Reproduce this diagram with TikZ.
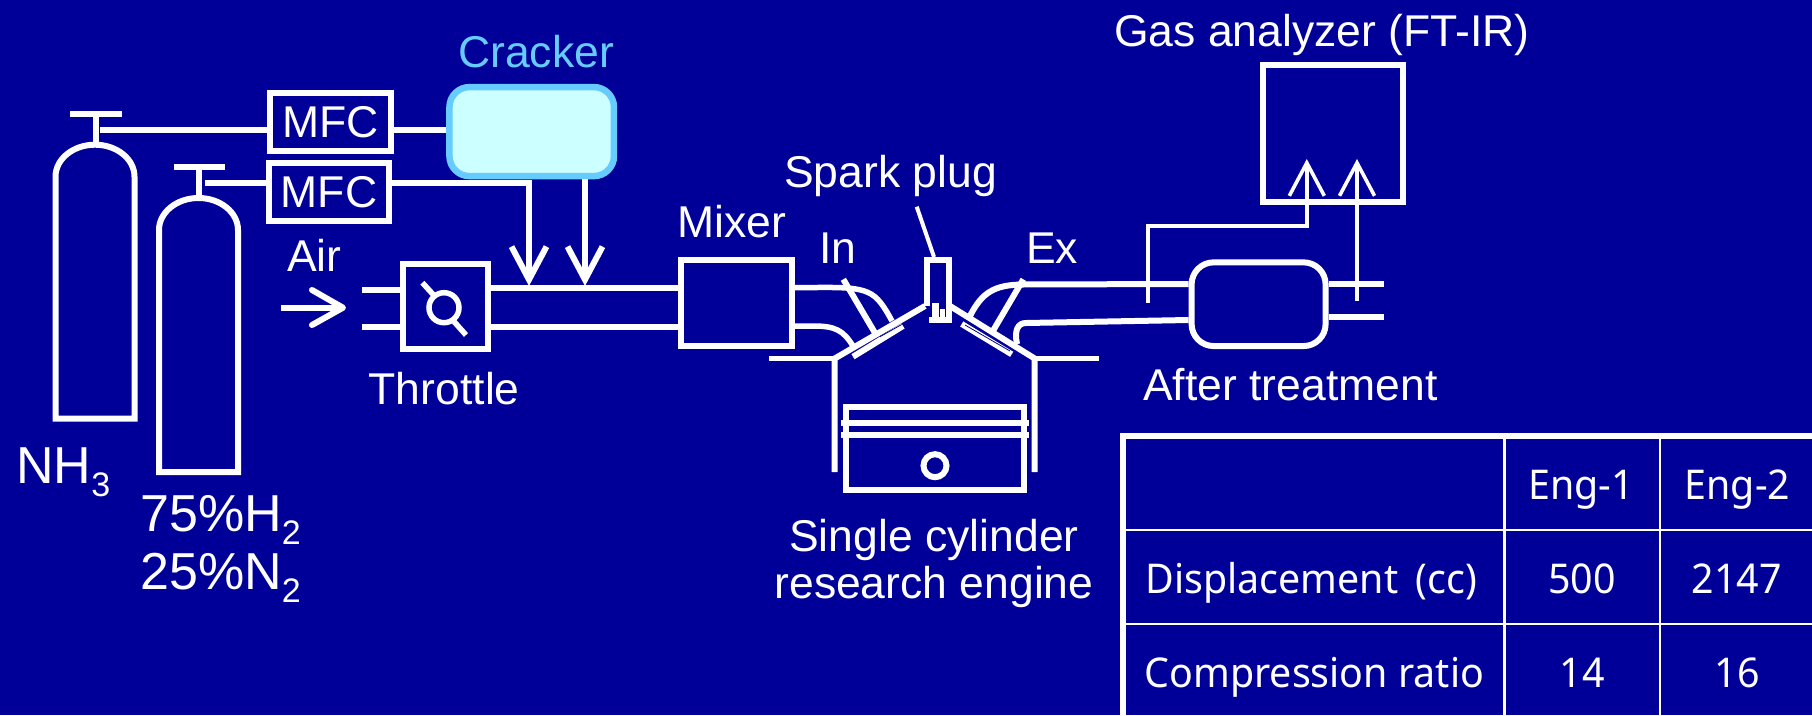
\documentclass[tikz,border=0pt]{standalone}
\usepackage{fontspec}
\setmainfont{Liberation Sans}
\newfontfamily\tablefont[FakeStretch=0.96]{Noto Sans}
\usetikzlibrary{arrows.meta}
\definecolor{slidebg}{RGB}{0,0,153}
\definecolor{crackerline}{RGB}{102,204,255}
\definecolor{crackerfill}{RGB}{204,255,255}
\newcommand{\lowtext}[1]{\raisebox{-13pt}{\fontsize{34}{34}\selectfont #1}}
\tikzset{
  lbl/.style={text=white, inner sep=0pt, anchor=base west, font=\fontsize{44.5}{44.5}\selectfont},
  biglbl/.style={lbl, font=\fontsize{52}{52}\selectfont},
  celltext/.style={text=white, inner sep=0pt, anchor=base, font=\tablefont\fontsize{41}{41}\selectfont},
  unit/.style={draw=white, line width=6pt, inner sep=0pt, font=\fontsize{44.5}{44.5}\selectfont, text=white},
  pipe/.style={draw=white, line width=6pt},
  vtip/.style={-{Straight Barb[length=33pt, width=35pt, line width=#1]}},
}
\begin{document}
\begin{tikzpicture}[x=1pt, y=-1pt]

    % Background
    \fill[slidebg] (0, 0) rectangle (1812, 715);
    \useasboundingbox (0, 0) rectangle (1812, 715);

    % Bottles
    \draw[pipe] (55.5, 418.7) -- (55.5, 176.7) arc[x radius=39.5, y radius=32, start angle=180, end angle=360] -- (134.5, 418.7) -- cycle;
    \draw[pipe] (159, 472) -- (159, 230) arc[x radius=39.5, y radius=32, start angle=180, end angle=360] -- (238, 472) -- cycle;
    \draw[pipe] (70, 114.3) -- (122, 114.3);
    \draw[pipe] (96, 114.3) -- (96, 142);
    \draw[pipe] (173.5, 167.3) -- (225, 167.3);
    \draw[pipe] (199, 167.3) -- (199, 196);
    \coordinate (taph) at (100, 129.7);
    \coordinate (tapn) at (205, 182.7);

    % Boxes
    \node[unit, minimum width=121pt, minimum height=58pt] (mfca) at (330.5, 122) {MFC};
    \node[unit, minimum width=120pt, minimum height=58pt] (mfcb) at (329, 192.3) {MFC};
    \node[draw=crackerline, fill=crackerfill, line width=6.5pt, rounded corners=20pt, minimum width=164.5pt, minimum height=89pt, inner sep=0pt] (cracker) at (531.7, 131.6) {};
    \node[unit, minimum width=85pt, minimum height=85pt] (throttle) at (445.5, 306.8) {};
    \node[unit, minimum width=111pt, minimum height=86.6pt] (mixer) at (736.5, 303) {};
    \node[unit, rounded corners=22pt, minimum width=134pt, minimum height=83.7pt] (after) at (1258.6, 304.2) {};
    \node[unit, minimum width=139.5pt, minimum height=137pt] (analyzer) at (1333.2, 133.5) {};

    % Gas lines
    \draw[pipe] (taph) -- (mfca.west |- taph);
    \draw[pipe] (mfca.east |- taph) -- (cracker.west |- taph);
    \draw[pipe] (tapn) -- (mfcb.west |- tapn);
    \coordinate (joina) at (529, 286);
    \coordinate (joinb) at (585, 286);
    \draw[pipe, vtip=6pt] (mfcb.east |- tapn) -- (joina |- tapn) -- (joina);
    \draw[pipe, vtip=6pt] (joinb |- cracker.south) -- (joinb);

    % Air
    \coordinate (airtail) at (281, 307.7);
    \coordinate (airtip) at (343, 307.7);
    \draw[pipe] (airtail) -- (airtip);
    \draw[pipe, line cap=round, line join=round] (312, 290) -- (airtip) -- (312, 325);
    \draw[pipe] (362, 290) -- (throttle.west |- 362, 290);
    \draw[pipe] (362, 326.7) -- (throttle.west |- 362, 326.7);
    \draw[white, line width=5.5pt] (444, 307.7) circle (15);
    \draw[white, line width=5.5pt] (422.4, 282.7) -- (434.5, 296);
    \draw[white, line width=5.5pt] (453.5, 321) -- (466, 335);

    % Intake pipes
    \draw[pipe] (throttle.east |- 491, 288.3) -- (mixer.west |- 491, 288.3);
    \draw[pipe] (throttle.east |- 491, 326.7) -- (mixer.west |- 491, 326.7);
    \draw[white, line width=5.5pt] (mixer.east |- 795, 287.5) -- (817, 287.5) .. controls (870, 287) and (875, 290) .. (892, 321);
    \draw[white, line width=5.5pt] (mixer.east |- 795, 326) -- (813, 326) .. controls (835, 326) and (843, 330) .. (853, 346);

    % Engine head
    \draw[pipe, line join=bevel] (834.7, 472) -- (834.7, 358.5) -- (925, 306);
    \draw[pipe, line join=bevel] (1034.7, 472) -- (1034.7, 358.5) -- (950, 306);
    \draw[white, line width=5.5pt] (769.3, 358.3) -- (834.7, 358.3);
    \draw[white, line width=5.5pt] (1034.7, 358.3) -- (1099, 358.3);
    \draw[pipe] (853, 356.7) -- (903, 326);
    \draw[pipe] (843.3, 279.3) -- (875, 333);
    \draw[pipe] (961.7, 324) -- (1011.7, 354.3);
    \draw[pipe] (1023.3, 279.3) -- (991.7, 333);
    \draw[slidebg, line width=0.8pt] (880, 336.7) -- (901.7, 324.5);
    \draw[slidebg, line width=0.8pt] (965, 325) -- (1010, 351);

    % Spark plug
    \draw[white, line width=6pt] (927.3, 306) -- (927.3, 260.3) -- (949, 260.3) -- (949, 320) -- (929, 320);
    \draw[white, line width=7pt] (935.5, 303) -- (935.5, 318);
    \draw[white, line width=5pt] (942.5, 309) -- (942.5, 318);
    \coordinate (plugtop) at (934, 257);
    \coordinate (plugfree) at (916.7, 206.7);
    \draw[white, line width=4pt] (plugfree) -- (plugtop);

    % Exhaust pipes
    \draw[pipe] (970, 316) .. controls (982, 292) and (995, 285) .. (1022, 284.5) -- (after.west |- 1188, 284);
    \draw[pipe] (1017, 344) .. controls (1014, 330) and (1018, 323) .. (1026, 323) -- (after.west |- 1188, 320);
    \draw[pipe] (after.east |- 1328, 283.7) -- (1384, 283.7);
    \draw[pipe] (after.east |- 1328, 317.3) -- (1384, 317.3);

    % Sample lines
    \draw[white, line width=3.6pt, vtip=3.6pt] (1147.7, 302.7) -- (1147.7, 226) -- (1306.8, 226) -- (1306.8, 159);
    \draw[white, line width=3.6pt, vtip=3.6pt] (1357, 300.7) -- (1357, 159);

    % Piston
    \draw[pipe] (846, 406.5) rectangle (1024, 490);
    \draw[pipe] (841, 422.7) -- (1029, 422.7);
    \draw[pipe] (841, 435) -- (1029, 435);
    \draw[pipe] (935, 465.7) circle (11.5);

    % Labels
    \node[lbl] (lblair) at (287, 271.7) {Air};
    \node[lbl] (lblthrottle) at (368.6, 404) {Throttle};
    \node[lbl, text=crackerline] (lblcracker) at (458, 67.7) {Cracker};
    \node[lbl] (lblmixer) at (677, 237) {Mixer};
    \node[lbl] (lblin) at (819, 263) {In};
    \node[lbl] (lblex) at (1026, 263) {Ex};
    \node[lbl] (lblspark) at (784, 187) {Spark plug};
    \node[lbl] (lblgas) at (1114, 46) {Gas analyzer (FT-IR)};
    \node[lbl] (lblafter) at (1143, 400) {After treatment};
    \node[biglbl] (lblnh) at (16, 483) {NH\lowtext{3}};
    \node[biglbl] (lblh) at (140, 531.7) {75\%H\lowtext{2}};
    \node[biglbl] (lbln) at (140, 589) {25\%N\lowtext{2}};
    \node[lbl, anchor=base] (lblsingle) at (934, 551) {Single cylinder};
    \node[lbl, anchor=base] (lblresearch) at (934, 598) {research engine};

    % Table
    \draw[white, line width=5.6pt] (1812, 436) -- (1123, 436) -- (1123, 715);
    \draw[white, line width=2.7pt] (1504.5, 436) -- (1504.5, 715);
    \draw[white, line width=2.7pt] (1660, 436) -- (1660, 715);
    \draw[white, line width=2.7pt] (1123, 530) -- (1812, 530);
    \draw[white, line width=2.7pt] (1123, 624) -- (1812, 624);
    \node[celltext] (enga) at (1581, 499.3) {Eng-1};
    \node[celltext] (engb) at (1737.5, 499.3) {Eng-2};
    \node[celltext, anchor=base west] (rowdisp) at (1145.5, 593.3) {Displacement\hspace{7pt} (cc)};
    \node[celltext] (dispa) at (1582, 593.3) {500};
    \node[celltext] (dispb) at (1736.5, 593.3) {2147};
    \node[celltext, anchor=base west] (rowcomp) at (1144.5, 687.3) {Compression ratio};
    \node[celltext] (compa) at (1582, 687.3) {14};
    \node[celltext] (compb) at (1737, 687.3) {16};

\end{tikzpicture}
\end{document}
